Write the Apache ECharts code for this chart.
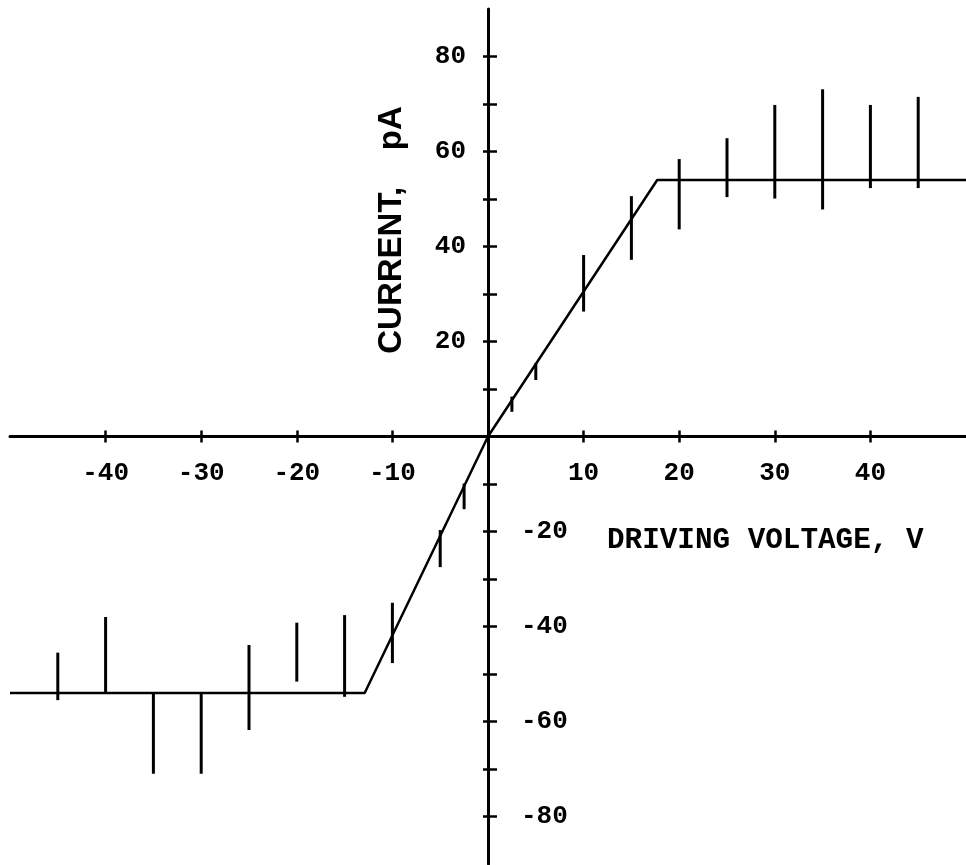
<!DOCTYPE html>
<html>
<head>
<meta charset="utf-8">
<script src="https://cdn.jsdelivr.net/npm/echarts@6/dist/echarts.min.js"></script>
<style>
  html, body { margin: 0; padding: 0; background: #fff; }
  #chart { width: 966px; height: 865px; }
</style>
</head>
<body>
<div id="chart"></div>
<script>
// Fitted transfer curve: saturates at about ±54 pA, passes through the origin.
const curveX = [-50, -12.9, 0, 17.7, 50];
const curveY = [-54, -54, 0, 54, 54];

// Measured spread at each driving voltage (low / high end of the bar).
const barX    = [-45, -40, -35, -30, -25, -20, -15, -10, -5, -2.5, 2.5, 5, 10, 15, 20, 25, 30, 35, 40, 45];
const barLow  = [-55.5, -54, -71, -71, -61.8, -51.6, -54.8, -47.7, -27.5, -15.3, 5.2, 11.9, 26.3, 37.2, 43.6, 50.4, 50.1, 47.8, 52.3, 52.3];
const barHigh = [-45.5, -38, -54, -54, -43.9, -39.2, -37.6, -35, -19.7, -9.9, 8.4, 15.4, 38.2, 50.6, 58.4, 62.8, 69.8, 73.1, 69.8, 71.5];

// Axis ticks and labels.
const xTicks = [-40, -30, -20, -10, 10, 20, 30, 40];
const yTicks = [-80, -70, -60, -50, -40, -30, -20, -10, 10, 20, 30, 40, 50, 60, 70, 80];
const yLabelsUp = [20, 40, 60, 80];
const yLabelsDown = [-20, -40, -60, -80];

const INK = '#000';
const LABEL = { color: INK, fontFamily: 'Liberation Mono', fontWeight: 'bold', fontSize: 26 };
const only = list => v => (list.includes(v) ? String(v) : '');

// Plot area: 956 x 855 px, so the origin sits 478 px in from the left
// and 427.5 px down from the top. Axes are pulled in to cross there.
const GRID = { left: 10, top: 9, width: 956, height: 855 };
const X_IN = -GRID.height / 2;
const Y_IN = -GRID.width / 2;

const TICK = { color: INK, width: 2.5 };

const chart = echarts.init(document.getElementById('chart'), null, { renderer: 'canvas' });

chart.setOption({
  animation: false,
  backgroundColor: '#fff',
  grid: { ...GRID, containLabel: false, outerBoundsMode: 'none' },
  xAxis: [
    {
      type: 'value', min: -50, max: 50, interval: 10, position: 'bottom', offset: X_IN,
      axisLine: { onZero: false, lineStyle: { color: INK, width: 3 } },
      axisTick: { customValues: xTicks, length: 6, lineStyle: TICK },
      axisLabel: { ...LABEL, margin: 24, formatter: only(xTicks) },
      splitLine: { show: false },
    },
    {
      type: 'value', min: -50, max: 50, position: 'top', offset: X_IN,
      axisLine: { show: false, onZero: false },
      axisTick: { customValues: xTicks, length: 6, lineStyle: TICK },
      axisLabel: { show: false },
      splitLine: { show: false },
    },
  ],
  yAxis: [
    {
      type: 'value', min: -90, max: 90, interval: 10, position: 'left', offset: Y_IN,
      axisLine: { onZero: false, lineStyle: { color: INK, width: 3 } },
      axisTick: { customValues: yTicks, length: 5, lineStyle: TICK },
      axisLabel: { ...LABEL, margin: 22, padding: [0, 0, 14, 0], formatter: only(yLabelsUp) },
      splitLine: { show: false },
    },
    {
      type: 'value', min: -90, max: 90, interval: 10, position: 'right', offset: Y_IN,
      axisLine: { show: false, onZero: false },
      axisTick: { customValues: yTicks, length: 9, lineStyle: TICK },
      axisLabel: { ...LABEL, margin: 33, padding: [0, 0, 8, 0], formatter: only(yLabelsDown) },
      splitLine: { show: false },
    },
  ],
  graphic: [
    {
      type: 'text', x: 392, y: 230, rotation: Math.PI / 2,
      style: {
        text: 'CURRENT,    pA', fill: INK,
        font: 'bold 33px "Liberation Sans"', align: 'center', verticalAlign: 'middle',
      },
    },
    {
      type: 'text', x: 607, y: 541,
      style: {
        text: 'DRIVING VOLTAGE, V', fill: INK,
        font: 'bold 29.3px "Liberation Mono"', align: 'left', verticalAlign: 'middle',
      },
    },
  ],
  series: [
    {
      type: 'line',
      data: curveX.map((x, i) => [x, curveY[i]]),
      showSymbol: false,
      lineStyle: { color: INK, width: 2.5 },
      z: 3,
    },
    {
      type: 'custom',
      data: barX.map((x, i) => [x, barLow[i], barHigh[i]]),
      renderItem: (params, api) => {
        const lo = api.coord([api.value(0), api.value(1)]);
        const hi = api.coord([api.value(0), api.value(2)]);
        return {
          type: 'line',
          shape: { x1: lo[0], y1: lo[1], x2: hi[0], y2: hi[1] },
          style: { stroke: INK, lineWidth: 3 },
        };
      },
      z: 4,
    },
  ],
});
</script>
</body>
</html>
